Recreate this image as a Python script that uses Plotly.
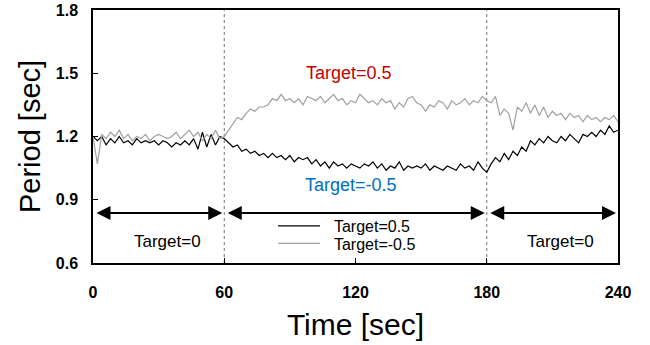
import plotly.graph_objects as go

# time axis (every 2 s)
time_s = list(range(0, 241, 2))

# Target=0.5 (black)
period_pos = [
    1.20, 1.18, 1.20, 1.16, 1.19, 1.17, 1.20, 1.17, 1.18, 1.16, 1.19, 1.17, 1.18, 1.17, 1.18, 1.16,
    1.18, 1.17, 1.15, 1.17, 1.16, 1.18, 1.16, 1.19, 1.14, 1.22, 1.15, 1.21, 1.16, 1.20, 1.19,
    1.17, 1.15, 1.16, 1.13, 1.14, 1.12, 1.13, 1.11, 1.12, 1.10, 1.12, 1.10, 1.11, 1.09, 1.11,
    1.08, 1.10, 1.09, 1.10, 1.07, 1.09, 1.06, 1.08, 1.05, 1.08, 1.06, 1.07, 1.05, 1.07, 1.06,
    1.05, 1.07, 1.06, 1.08, 1.05, 1.07, 1.04, 1.06, 1.05, 1.08, 1.04, 1.06, 1.05, 1.06, 1.05,
    1.07, 1.04, 1.06, 1.05, 1.04, 1.06, 1.05, 1.04, 1.07, 1.05, 1.06, 1.04, 1.08, 1.05, 1.03,
    1.07, 1.10, 1.08, 1.12, 1.09, 1.13, 1.11, 1.15, 1.13, 1.18, 1.16, 1.19, 1.17, 1.20, 1.18,
    1.17, 1.20, 1.18, 1.21, 1.19, 1.17, 1.21, 1.20, 1.22, 1.20, 1.23, 1.21, 1.25, 1.22, 1.23,
]

# Target=-0.5 (gray)
period_neg = [
    1.20, 1.07, 1.21, 1.19, 1.22, 1.20, 1.23, 1.19, 1.21, 1.18, 1.20, 1.19, 1.21, 1.18, 1.20, 1.21,
    1.20, 1.19, 1.20, 1.22, 1.19, 1.21, 1.23, 1.20, 1.22, 1.18, 1.21, 1.19, 1.23, 1.19, 1.20,
    1.23, 1.26, 1.29, 1.28, 1.31, 1.33, 1.32, 1.34, 1.34, 1.35, 1.38, 1.37, 1.40, 1.37, 1.38,
    1.36, 1.38, 1.35, 1.39, 1.38, 1.37, 1.39, 1.36, 1.38, 1.40, 1.37, 1.38, 1.35, 1.37, 1.36,
    1.40, 1.38, 1.36, 1.37, 1.35, 1.38, 1.36, 1.37, 1.33, 1.36, 1.34, 1.38, 1.39, 1.36, 1.35,
    1.32, 1.35, 1.34, 1.37, 1.36, 1.33, 1.37, 1.35, 1.36, 1.38, 1.35, 1.37, 1.36, 1.39, 1.37,
    1.36, 1.39, 1.30, 1.33, 1.31, 1.23, 1.34, 1.32, 1.36, 1.31, 1.35, 1.30, 1.34, 1.29, 1.32,
    1.30, 1.31, 1.28, 1.31, 1.29, 1.30, 1.27, 1.30, 1.28, 1.29, 1.27, 1.29, 1.28, 1.30, 1.27,
]

x_ticks = [0, 60, 120, 180, 240]
y_ticks = [0.6, 0.9, 1.2, 1.5, 1.8]
phase_bounds = [0, 60, 180, 240]
phase_labels = ["Target=0", "", "Target=0"]
label_pos = [34, None, 213.5]

FONT = "Arial, Liberation Sans, sans-serif"
NB = "\u00a0\u00a0"

fig = go.Figure()
fig.add_trace(go.Scatter(x=time_s, y=period_pos, mode="lines", name=NB + "Target=0.5",
                         legend="legend",
                         line=dict(color="#000000", width=1.2)))
fig.add_trace(go.Scatter(x=time_s, y=period_neg, mode="lines", name=NB + "Target=-0.5",
                         legend="legend2",
                         line=dict(color="#a0a0a0", width=1.2)))

# dotted phase boundaries
for b in phase_bounds[1:-1]:
    fig.add_shape(type="line", x0=b, x1=b, y0=0, y1=1, xref="x", yref="paper",
                  line=dict(color="#707070", width=1, dash="dot"), layer="below")

arrow_y = 0.837
for a, b in zip(phase_bounds[:-1], phase_bounds[1:]):
    fig.add_annotation(x=b, y=arrow_y, ax=a, ay=arrow_y, xref="x", yref="y",
                       axref="x", ayref="y", text="", showarrow=True,
                       arrowhead=2, arrowside="end+start", arrowwidth=2,
                       arrowsize=1.4, arrowcolor="#000000", standoff=2, startstandoff=2)

for lab, pos in zip(phase_labels, label_pos):
    if lab:
        fig.add_annotation(x=pos, y=0.70, text=lab, showarrow=False,
                           font=dict(family=FONT, size=17, color="#000000"))

fig.add_annotation(x=117, y=1.5, text="Target=0.5", showarrow=False,
                   font=dict(family=FONT, size=18, color="#c00000"))
fig.add_annotation(x=118, y=0.97, text="Target=-0.5", showarrow=False,
                   font=dict(family=FONT, size=18, color="#0070c0"))

axis_common = dict(showline=True, linecolor="#000000", linewidth=1.5, mirror=True,
                   ticks="inside", ticklen=5, tickcolor="#000000", showgrid=False,
                   zeroline=False, ticklabeloverflow="allow",
                   tickfont=dict(family=FONT, size=16, color="#000000", weight="bold"))

fig.update_xaxes(range=[0, 240], tickvals=x_ticks, ticktext=[str(v) for v in x_ticks],
                 title=dict(text="Time [sec]", font=dict(family=FONT, size=30, color="#000000"),
                            standoff=14),
                 ticklabelstandoff=14, **axis_common)
fig.update_yaxes(range=[0.6, 1.8], tickvals=y_ticks, ticktext=[f"{v:.1f}" for v in y_ticks],
                 title=dict(text="Period [sec]", font=dict(family=FONT, size=29, color="#000000"),
                            standoff=7),
                 ticklabelstandoff=10, **axis_common)

legend_common = dict(xanchor="left", yanchor="middle", bgcolor="rgba(0,0,0,0)",
                     itemwidth=42, font=dict(family=FONT, size=16, color="#000000"))

fig.update_layout(
    width=650, height=345,
    margin=dict(l=93, r=32, t=10, b=82, autoexpand=False),
    paper_bgcolor="white", plot_bgcolor="white",
    showlegend=True,
    legend=dict(x=0.343, y=0.146, **legend_common),
    legend2=dict(x=0.343, y=0.077, **legend_common),
)

fig.write_html("out.html", config={"displayModeBar": False},
               post_script="document.body.style.margin='0px';document.body.style.overflow='hidden';")
